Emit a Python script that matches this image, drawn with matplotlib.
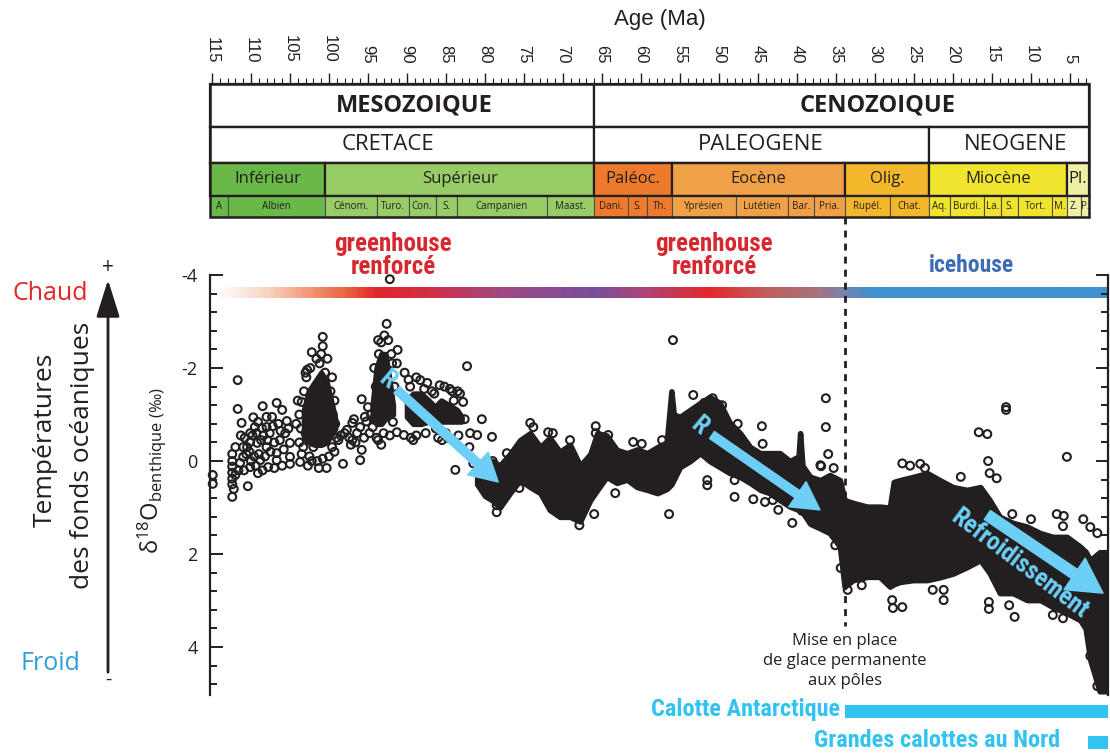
import numpy as np
import matplotlib.pyplot as plt
from matplotlib.colors import LinearSegmentedColormap
from matplotlib.patches import Rectangle, FancyArrowPatch
from matplotlib.ticker import MultipleLocator

plt.rcParams['font.family'] = ['Open Sans', 'DejaVu Sans']
plt.rcParams['mathtext.fontset'] = 'custom'
plt.rcParams['mathtext.rm'] = 'Open Sans'
plt.rcParams['mathtext.it'] = 'Open Sans:italic'

INK = '#231f20'
COND = ['Noto Sans Condensed', 'Roboto Condensed', 'Open Sans Condensed', 'Noto Sans']
ARIAL = ['Liberation Sans', 'DejaVu Sans']
ARROW_BLUE = '#6dcff6'
ICE_BLUE = '#33c3f0'

# ---- geological timescale (Ma) ----
era_names = ['MESOZOIQUE', 'CENOZOIQUE']
era_bounds = [115.25, 66.0, 2.58]
era_label_age = [89.1, 29.7]

period_names = ['CRETACE', 'PALEOGENE', 'NEOGENE']
period_bounds = [115.25, 66.0, 23.03, 2.58]
period_label_age = [92.5, 44.6, 12.0]

epoch_names = ['Inférieur', 'Supérieur', 'Paléoc.', 'Eocène', 'Olig.', 'Miocène', 'Pl.']
epoch_bounds = [115.25, 100.5, 66.0, 56.0, 33.9, 23.03, 5.33, 2.58]
epoch_colors = ['#69b848', '#98cc66', '#ee7a2e', '#f0a046', '#f3b72c', '#f1e42f', '#eef0a6']

stage_names = ['A', 'Albien', 'Cénom.', 'Turo.', 'Con.', 'S.', 'Campanien', 'Maast.',
               'Dani.', 'S.', 'Th.', 'Yprésien', 'Lutétien', 'Bar.', 'Pria.',
               'Rupél.', 'Chat.', 'Aq.', 'Burdi.', 'La.', 'S.', 'Tort.', 'M.', 'Z.', 'P.']
stage_bounds = [115.25, 113.0, 100.5, 93.9, 89.8, 86.3, 83.6, 72.1, 66.0, 61.6, 59.2, 56.0,
                47.8, 41.2, 37.8, 33.9, 28.1, 23.03, 20.44, 15.97, 13.82, 11.63, 7.25,
                5.33, 3.6, 2.58]

# ---- benthic d18O compilation ----
# individual measurements
pts_age = [
    114.9, 114.9, 112.4, 112.4, 112.4, 112.4, 112.4, 112.4, 112.4, 111.7, 111.7, 111.2,
    111.0, 110.4, 109.7, 108.5, 106.7, 106.0, 105.4, 107.3, 108.0, 110.1, 110.5, 109.2,
    108.0, 106.7, 106.3, 105.0, 105.0, 105.0, 106.7, 107.8, 109.1, 110.1, 111.4, 108.8,
    107.6, 108.6, 109.5, 110.1, 108.0, 109.1,
    111.0, 110.8, 110.6, 110.2, 109.8, 109.6, 109.3, 109.0, 108.7, 108.4, 108.2, 107.9,
    107.5, 107.2, 107.0, 106.5, 106.2, 105.8, 105.6, 105.2, 111.3, 110.9, 110.0, 109.4,
    108.5, 107.0, 106.0, 111.6, 112.0, 112.0, 112.2,
    103.8, 103.6, 103.8, 103.5, 103.7, 102.2, 100.8, 100.8, 101.2, 100.3, 101.3, 102.2,
    99.3, 99.0, 103.2, 102.9, 102.6, 102.0, 101.7, 100.5, 99.8, 99.5, 99.2, 103.0, 102.7,
    103.5, 102.8,
    103.0, 102.4, 101.6, 101.0, 100.2, 99.6, 99.3, 103.3, 102.5, 101.5, 100.8, 100.0,
    99.6, 104.2, 104.0,
    98.2, 95.8, 97.0, 96.0, 95.8, 96.0, 97.7, 94.4, 95.0, 93.7, 98.5, 98.0, 97.4, 96.6,
    96.4, 95.5, 95.2, 94.8, 97.0, 96.8, 98.8, 97.2, 95.4, 94.6,
    92.6, 92.9, 93.3, 91.2, 91.3, 91.8, 91.3, 90.4, 90.3, 93.9, 93.3, 92.2, 92.2, 93.6,
    92.0, 91.6, 94.0, 94.2, 93.7, 92.4, 91.9, 93.0, 94.3,
    88.3, 87.4, 85.8, 82.3, 82.8, 80.4, 79.1, 81.9, 81.0, 85.5, 83.8, 84.5, 84.0, 83.2,
    89.5, 88.8, 86.0, 85.0, 89.0, 87.0, 89.6, 86.8, 82.6, 82.0, 81.5,
    89.8, 88.8, 87.8, 86.5, 85.2, 84.2, 83.5, 89.2, 87.6, 86.3, 84.8, 83.4,
    78.5, 78.5, 78.8, 77.2, 75.5, 79.0, 79.6, 75.6, 74.2, 73.8, 71.9, 71.3, 69.1, 67.9,
    66.0, 65.8, 65.8, 64.2, 63.3,
    61.0, 59.9, 60.3, 57.3, 56.4, 55.9, 53.3, 51.9, 50.8, 49.6, 47.6, 44.5, 44.4, 51.5,
    51.5, 48.0, 48.0, 45.6, 44.1, 43.1, 42.4, 40.6, 37.0, 36.3, 36.3, 36.0, 36.9, 35.3,
    35.1, 34.4,
    33.5, 31.7, 27.8, 27.7, 26.5, 22.6, 21.2, 21.2, 24.2, 23.6, 26.5, 25.5, 19.0, 16.7,
    15.6, 13.2, 13.2, 15.5, 15.3, 14.4, 5.4, 12.4, 10.0, 6.7, 5.8, 5.9, 3.3, 2.4, 1.5,
    15.4, 15.4, 12.8, 12.1, 7.2, 5.9, 2.4, 1.5,
]
pts_d18o = [
    0.30, 0.49, -0.15, 0.0, 0.12, 0.25, 0.38, 0.50, 0.77, -1.74, -1.12, -0.82,
    -0.09, 0.54, -0.94, -1.18, -1.25, -1.10, -0.86, -0.95, -0.73, -0.60, -0.30, -0.39,
    -0.30, -0.17, -0.45, -0.39, -0.09, 0.06, -0.02, 0.13, 0.26, 0.13, 0.04, -0.02,
    -0.60, -0.71, -0.73, -0.41, -0.95, -0.84,
    -0.30, -0.50, -0.15, -0.20, -0.55, -0.10, -0.60, -0.15, -0.45, -0.55, -0.10, -0.45,
    -0.20, -0.75, -0.40, -0.80, -0.65, -0.25, -0.60, -0.70, -0.55, 0.20, 0.0, 0.10,
    0.20, 0.15, 0.10, 0.20, -0.30, 0.30, 0.60,
    -1.0, -0.7, -0.4, -0.15, 0.02, -2.34, -2.67, -2.47, -2.10, 0.15, 0.15, 0.0,
    -0.20, -0.50, -1.50, -1.80, -1.20, -0.30, -1.60, -1.90, -1.50, -1.00, -0.80, -0.60, 0.10,
    -1.27, -1.96,
    -1.90, -2.00, -2.20, -2.30, -2.20, -1.80, -1.30, -0.30, -0.10, 0.0, -0.05, -0.10,
    -0.30, -0.80, -1.30,
    0.06, -1.33, -0.82, -0.73, -0.24, -0.02, -0.67, -0.73, -1.16, -0.45, -0.55, -0.60, -0.50, -0.40,
    -0.60, -0.50, -0.85, -0.60, -0.45, -0.90, -0.45, -0.35, -0.95, -1.00,
    -2.95, -2.70, -2.55, -2.39, -2.10, -0.84, -0.62, -0.56, -1.90, -0.50, -0.35, -0.55, -3.91, -2.30,
    -2.30, -1.60, -1.60, -2.00, -2.60, -2.60, -2.10, -0.60, -0.90,
    -1.74, -1.68, -1.63, -2.04, -1.27, -0.90, -0.52, -0.60, -0.56, -0.45, 0.19, -1.55, -1.30, -1.45,
    -0.50, -0.55, -0.50, -0.60, -1.30, -1.20, -1.60, -1.50, -0.90, -0.30, 0.05,
    -1.75, -1.80, -1.55, -1.45, -1.60, -1.50, -1.50, -0.45, -0.60, -0.70, -0.50, -0.55,
    1.10, 0.95, 0.82, -0.17, -0.30, 0.0, 0.0, 0.58, -0.82, -0.73, -0.62, -0.60, -0.45, 1.38,
    1.14, -0.75, -0.60, -0.56, 0.69,
    -0.41, -0.37, -0.11, -0.45, 1.14, -2.60, -1.42, -1.25, -1.35, -1.20, -0.80, -0.75, -0.37, 0.41,
    0.52, 0.41, 0.77, 0.82, 0.88, 0.84, 1.05, 1.33, 0.09, -1.35, -0.73, -0.15, 0.11, 0.15,
    1.81, 2.30,
    2.77, 2.67, 2.99, 3.16, 3.14, 2.77, 2.77, 2.99, 0.06, 0.15, 0.05, 0.10, 0.34, -0.62,
    -0.58, -1.16, -1.10, 0.0, 0.26, 0.37, -0.09, 1.14, 1.25, 1.14, 1.18, 1.40, 1.25, 1.42, 1.55,
    3.03, 3.18, 3.10, 3.35, 3.31, 3.38, 4.19, 4.84,
]

# densely sampled intervals: upper and lower limits of the point cloud
crA_age = [103.2, 102.6, 101.8, 101.0, 100.3, 99.6, 99.2]
crA_top = [-1.1, -1.5, -1.7, -1.9, -1.7, -1.2, -0.9]
crA_bot = [-0.5, -0.4, -0.35, -0.35, -0.4, -0.6, -0.7]

crB_age = [94.4, 93.9, 93.3, 92.8, 92.3, 91.8]
crB_top = [-1.2, -2.0, -2.3, -2.3, -1.8, -1.2]
crB_bot = [-0.9, -0.8, -0.8, -0.9, -1.0, -1.0]

crC_age = [90.0, 89.2, 88.2, 87.2, 86.5, 85.6, 84.6, 83.6, 83.0]
crC_top = [-1.3, -1.45, -1.45, -1.3, -1.15, -1.3, -1.2, -1.1, -0.95]
crC_bot = [-0.95, -0.8, -0.8, -0.85, -0.95, -0.85, -0.85, -0.85, -0.85]

band_age = [81.0, 80.0, 79.0, 78.1, 76.8, 75.5, 74.2, 72.9, 71.7, 70.4,
            69.1, 67.8, 66.5, 65.6, 64.4, 63.1, 61.8, 60.5, 59.2, 57.9,
            56.7, 56.1, 55.8, 55.0, 53.7, 52.4, 51.2, 49.9, 48.6, 47.3,
            46.0, 44.7, 43.5, 42.2, 40.9, 39.8, 39.6, 39.3, 38.3, 37.0,
            35.8, 34.5, 33.9, 32.8, 31.0, 29.4, 28.1, 27.6, 26.8, 25.1,
            23.3, 21.7, 20.0, 18.2, 16.5, 15.3, 14.0, 12.3, 10.5, 8.8,
            7.2, 5.4, 3.7, 3.0, 2.4, 1.2, 0.13]
band_top = [0.1, 0.05, 0.0, 0.1, -0.15, -0.45, -0.6, -0.3, -0.5, -0.2,
            -0.35, 0.1, -0.15, -0.6, -0.55, -0.24, -0.17, -0.25, -0.17, -0.3,
            -0.4, -1.5, -1.0, -0.95, -1.1, -1.25, -1.38, -1.25, -0.82, -0.6,
            -0.3, -0.17, -0.17, -0.17, 0.0, -0.1, -0.6, 0.1, 0.34, 0.41,
            0.3, 0.41, 0.84, 0.9, 0.98, 0.98, 1.0, 0.45, 0.41, 0.34,
            0.26, 0.41, 0.56, 0.62, 0.56, 0.84, 1.2, 1.33, 1.41, 1.55,
            1.63, 1.63, 1.84, 1.95, 2.13, 1.96, 1.96]
band_bot = [0.5, 0.75, 0.85, 1.0, 0.69, 0.41, 0.56, 0.69, 1.05, 1.2,
            1.2, 1.3, 0.84, 0.62, 0.34, 0.47, 0.4, 0.56, 0.62, 0.69,
            0.6, 0.5, 0.4, 0.13, 0.0, -0.17, 0.0, 0.13, 0.26, 0.34,
            0.47, 0.62, 0.69, 0.84, 0.98, 1.05, 1.1, 1.1, 1.35, 1.45,
            1.55, 1.84, 2.7, 2.56, 2.49, 2.49, 2.7, 2.65, 2.6, 2.56,
            2.56, 2.5, 2.42, 2.28, 2.13, 2.41, 2.84, 2.84, 2.99, 2.99,
            3.14, 3.27, 3.42, 3.6, 4.28, 4.95, 4.95]

# climate-mode colour bar
grad_ages = [114.6, 108.0, 101.5, 97.3, 94.1, 86.7, 78.1, 66.2, 58.8, 51.2, 43.8, 37.0, 34.1, 30.4, 0.13]
grad_colors = ['#ffffff', '#f9d2c0', '#ef8a66', '#ea5a3c', '#e3262a', '#cf3049', '#a04883',
               '#7a4f9e', '#b14372', '#e4292b', '#c05f5c', '#a57480', '#7a82a8', '#3f92cf', '#3f92cf']

# ice sheets
ice_labels = ['Calotte Antarctique', 'Grandes calottes au Nord']
ice_onset = [33.9, 2.7]
ice_label_age = [34.5, 6.3]
ice_y = [5.39, 6.05]

ONSET_PERMANENT_ICE = 33.9
XLIM = (115.25, 0.13)

W, H = 1110, 755
fig = plt.figure(figsize=(W / 100, H / 100), dpi=100)


def fx(px):
    return px / W


def fy(py):
    return 1 - py / H


# ---------------- timescale ----------------
axt = fig.add_axes([fx(210), fy(217), fx(1108) - fx(210), (217 - 84) / H])
axt.set_xlim(*XLIM)
axt.set_ylim(1, 0)
for s in axt.spines.values():
    s.set_visible(False)
axt.set_yticks([])
axt.xaxis.tick_top()
axt.set_xticks(np.arange(115, 4, -5))
axt.set_xticks(np.arange(115, 2, -1), minor=True)
axt.tick_params(axis='x', which='major', direction='out', length=8, width=1.0,
                pad=7, labelsize=12, colors=INK, labelrotation=270)
axt.tick_params(axis='x', which='minor', direction='out', length=4, width=0.8, colors=INK)
for lab in axt.get_xticklabels():
    lab.set_fontfamily(ARIAL)

rows = [0, 0.323, 0.594, 0.842, 1.0]


def draw_row(bounds, names, r, colors, fs, weight='normal', lw=1.6, ec=INK,
             label_ages=None, family=None):
    y0, y1 = rows[r], rows[r + 1]
    for i, name in enumerate(names):
        left, right = bounds[i], bounds[i + 1]
        axt.add_patch(Rectangle((right, y0), left - right, y1 - y0, facecolor=colors[i],
                                edgecolor=ec, lw=lw, clip_on=False))
        xm = label_ages[i] if label_ages else (left + right) / 2
        axt.text(xm, (y0 + y1) / 2, name, ha='center', va='center', fontsize=fs,
                 weight=weight, color=INK, family=family or plt.rcParams['font.family'])


def epoch_color(age):
    for i in range(len(epoch_names)):
        if epoch_bounds[i] >= age > epoch_bounds[i + 1]:
            return epoch_colors[i]
    return epoch_colors[-1]


draw_row(era_bounds, era_names, 0, ['white'] * 2, 17, weight='bold', label_ages=era_label_age)
draw_row(period_bounds, period_names, 1, ['white'] * 3, 16, label_ages=period_label_age)
draw_row(epoch_bounds, epoch_names, 2, epoch_colors, 12)
stage_colors = [epoch_color((stage_bounds[i] + stage_bounds[i + 1]) / 2) for i in range(len(stage_names))]
draw_row(stage_bounds, stage_names, 3, stage_colors, 7, lw=0.8, ec='#4d4d4d')
axt.add_patch(Rectangle((2.58, 0), XLIM[0] - 2.58, 1, facecolor='none', edgecolor=INK,
                        lw=1.8, clip_on=False))
for r in (1, 2, 3):
    axt.plot([XLIM[0], 2.58], [rows[r], rows[r]], color=INK, lw=1.6, clip_on=False)

fig.text(fx(660), fy(20), 'Age (Ma)', ha='center', va='center', fontsize=16,
         color=INK, family=ARIAL)

# ---------------- d18O panel ----------------
ax = fig.add_axes([fx(210), fy(695), fx(1108) - fx(210), (695 - 275) / H])
ax.set_facecolor('none')

cmap = LinearSegmentedColormap.from_list(
    'climate', [((grad_ages[0] - a) / (grad_ages[0] - grad_ages[-1]), c)
                for a, c in zip(grad_ages, grad_colors)])
grad = np.linspace(0, 1, 600)[None, :]
ax.imshow(grad, cmap=cmap, aspect='auto', extent=(grad_ages[0], grad_ages[-1], -3.5, -3.72),
          zorder=1, clip_on=False, interpolation='bilinear')

for a, t, b in ((crA_age, crA_top, crA_bot), (crB_age, crB_top, crB_bot),
                (crC_age, crC_top, crC_bot), (band_age, band_top, band_bot)):
    ax.fill_between(a, t, b, facecolor=INK, edgecolor=INK, lw=4.0, joinstyle='round', zorder=2)
ax.scatter(pts_age, pts_d18o, s=32, facecolors='none', edgecolors=INK, linewidths=1.5,
           zorder=3, clip_on=False)

ax.set_xlim(*XLIM)
ax.set_ylim(5.03, -4.0)
ax.spines['top'].set_visible(False)
ax.spines['bottom'].set_visible(False)
for s in ('left', 'right'):
    ax.spines[s].set_linewidth(1.6)
    ax.spines[s].set_color(INK)
ax.set_xticks([])
ax.set_yticks([-4, -2, 0, 2, 4])
ax.set_yticklabels(['-4', '-2', '0', '2', '4'])
ax.yaxis.set_minor_locator(MultipleLocator(0.4))
ax.tick_params(axis='y', which='both', direction='in', left=True, right=True,
               labelright=False, colors=INK, width=1.4)
ax.tick_params(axis='y', which='major', length=9, pad=9, labelsize=13)
ax.tick_params(axis='y', which='minor', length=5)

fig.text(fx(152), fy(470), r'$\mathrm{δ}^{18}\mathrm{O}_{\mathrm{benthique\ (‰)}}$',
         rotation=90, ha='center', va='center', fontsize=17, color=INK)

# climate regimes
for age in (91.8, 50.6):
    ax.text(age, -4.42, 'greenhouse\nrenforcé', ha='center', va='center', fontsize=18,
            weight='bold', stretch='condensed', color='#d7282f', family=COND, linespacing=0.9)
ax.text(17.6, -4.2, 'icehouse', ha='center', va='center', fontsize=17, weight='bold',
        stretch='condensed', color='#3d6db5', family=COND)

# permanent polar ice
ax.plot([ONSET_PERMANENT_ICE, ONSET_PERMANENT_ICE], [-5.25, 3.55], color=INK, lw=2,
        ls=(0, (2.5, 2.2)), clip_on=False, zorder=4)
ax.text(ONSET_PERMANENT_ICE, 4.3, 'Mise en place\nde glace permanente\naux pôles',
        ha='center', va='center', fontsize=12, color=INK, linespacing=1.35)

ax.barh(ice_y, [o - XLIM[1] for o in ice_onset], left=XLIM[1], height=0.28,
        color=ICE_BLUE, clip_on=False, zorder=3)
for lab, a, y in zip(ice_labels, ice_label_age, ice_y):
    ax.text(a, y - 0.04, lab, ha='right', va='center', fontsize=17.5, weight='bold',
            stretch='condensed', color=ICE_BLUE, family=COND)

# trend arrows
arrow_style = 'simple,head_length=0.9,head_width=1.0,tail_width=0.28'
ax.annotate('', xy=(78.3, 0.45), xytext=(91.3, -1.53),
            arrowprops=dict(arrowstyle=arrow_style, mutation_scale=22, color=ARROW_BLUE,
                            shrinkA=0, shrinkB=0), zorder=5)
ax.annotate('', xy=(37.05, 1.05), xytext=(50.9, -0.56),
            arrowprops=dict(arrowstyle=arrow_style, mutation_scale=22, color=ARROW_BLUE,
                            shrinkA=0, shrinkB=0), zorder=5)
ax.annotate('', xy=(0.77, 2.84), xytext=(15.6, 1.16),
            arrowprops=dict(arrowstyle='simple,head_length=0.95,head_width=1.05,tail_width=0.3',
                            mutation_scale=26, color=ARROW_BLUE, shrinkA=0, shrinkB=0), zorder=5)
for age, d in ((92.5, -1.75), (52.5, -0.76)):
    ax.text(age, d, 'R', ha='center', va='center', fontsize=18, weight='bold',
            stretch='condensed', color=ARROW_BLUE, family=COND, rotation=-40, zorder=6)
ax.text(11.5, 2.22, 'Refroidissement', ha='center', va='center', fontsize=18, weight='bold',
        stretch='condensed', color=ARROW_BLUE, family=COND, rotation=-37, zorder=6)

# temperature scale on the left
fig.add_artist(FancyArrowPatch((fx(108), fy(675)), (fx(108), fy(277)), transform=fig.transFigure,
                               arrowstyle='-|>,head_length=1.15,head_width=0.36',
                               mutation_scale=20, lw=2, color=INK))
fig.text(fx(108), fy(268), '+', ha='center', va='center', fontsize=15, color=INK)
fig.text(fx(108), fy(680), '-', ha='center', va='center', fontsize=14, color=INK)
fig.text(fx(50), fy(293), 'Chaud', ha='center', va='center', fontsize=18, color='#e4262a')
fig.text(fx(50), fy(663), 'Froid', ha='center', va='center', fontsize=18, color='#2e9fda')
fig.text(fx(45), fy(440), 'Températures', rotation=90, ha='center', va='center',
         fontsize=19, color=INK)
fig.text(fx(83), fy(455), 'des fonds océaniques', rotation=90, ha='center', va='center',
         fontsize=19, color=INK)

fig.savefig('out.png', dpi=100)
